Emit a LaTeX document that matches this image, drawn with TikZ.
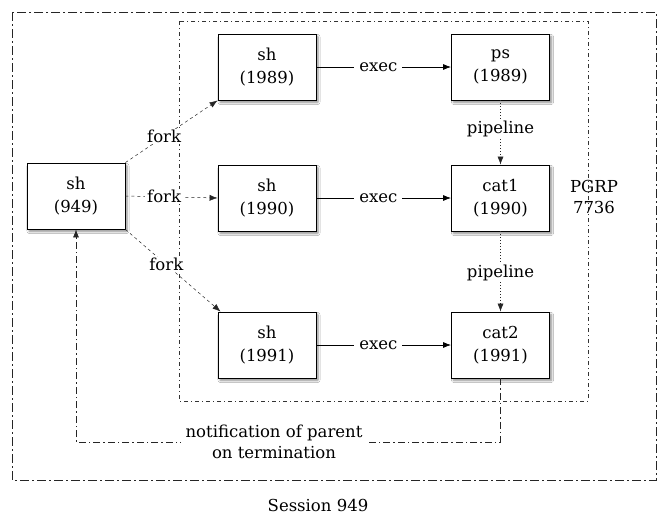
\documentclass[tikz,border=0pt]{standalone}
\usepackage{fontspec}
\setmainfont{DejaVu Serif}
\usetikzlibrary{arrows.meta,shadows.blur}
\begin{document}
\begin{tikzpicture}[x=1pt,y=-1pt,
  every node/.style={font=\fontsize{16.5}{23}\selectfont, text=black},
  proc/.style={draw=black, line width=0.9pt, fill=white, minimum width=98pt, minimum height=66pt, align=center, inner sep=0pt,
     blur shadow={shadow xshift=2pt, shadow yshift=-2.5pt, shadow blur steps=6, shadow blur extra rounding=0.5pt, shadow opacity=45}},
  tip/.style={-{Latex[length=8pt,width=6pt]}},
  forkline/.style={tip, line width=0.5pt, draw=black!85, dash pattern=on 3pt off 3pt},
  execline/.style={tip, line width=0.7pt, draw=black},
  pipeline/.style={tip, line width=0.5pt, draw=black!85, dash pattern=on 1pt off 2pt},
  session/.style={line width=0.8pt, draw=black!85, dash pattern=on 9pt off 3pt on 2pt off 3pt},
  pgrp/.style={line width=0.5pt, draw=black!80, dash pattern=on 4pt off 3pt on 1pt off 3pt},
  notifline/.style={tip, line width=0.6pt, draw=black!85, dash pattern=on 7pt off 3pt on 1.5pt off 3pt},
  lbl/.style={fill=white, inner xsep=2pt, inner ysep=1pt}
]
\useasboundingbox (0,0) rectangle (667,528);
\fill[white] (0,0) rectangle (667,528);

% session and process group borders
\draw[session] (12,12) rectangle (656,480);
\draw[pgrp] (179,21) rectangle (588,401);

% processes
\node[proc] (p949) at (76,196) {sh\\(949)};
\node[proc] (sh1989) at (267,67) {sh\\(1989)};
\node[proc] (ps1989) at (500.5,67) {ps\\(1989)};
\node[proc] (sh1990) at (267,198) {sh\\(1990)};
\node[proc] (cat1) at (500.5,198) {cat1\\(1990)};
\node[proc] (sh1991) at (267,345) {sh\\(1991)};
\node[proc] (cat2) at (500.5,345) {cat2\\(1991)};

% forks
\draw[forkline] (p949.north east) -- node[lbl, pos=0.42] (fork1) {fork} (sh1989.south west);
\draw[forkline] (p949.east) -- node[lbl, pos=0.42] (fork2) {fork} (sh1990.west);
\draw[forkline] (p949.south east) -- node[lbl, pos=0.43] (fork3) {fork} ([xshift=3pt]sh1991.north west);

% execs
\draw[execline] (sh1989.east) -- node[lbl, pos=0.46, inner xsep=5pt] (exec1) {exec} (ps1989.west);
\draw[execline] (sh1990.east) -- node[lbl, pos=0.46, inner xsep=5pt] (exec2) {exec} (cat1.west);
\draw[execline] (sh1991.east) -- node[lbl, pos=0.46, inner xsep=5pt] (exec3) {exec} (cat2.west);

% pipelines
\draw[pipeline] (ps1989.south) -- node[lbl, pos=0.44] (pipe1) {pipeline} (cat1.north);
\draw[pipeline] (cat1.south) -- node[lbl, pos=0.52] (pipe2) {pipeline} (cat2.north);

% notification
\coordinate (nrow) at (0,442);
\draw[notifline] (cat2.south) -- (cat2.south |- nrow) -- (p949.south |- nrow) -- (p949.south);
\node[lbl, align=center, inner xsep=5pt, inner ysep=0pt, font=\fontsize{16.5}{21}\selectfont] (notif) at (274,442) {notification of parent\\on termination};

% labels
\node[align=center, font=\fontsize{16.5}{21}\selectfont] (pgrplbl) at (594,197) {PGRP\\7736};
\node (sesslbl) at (318,505) {Session 949};
\end{tikzpicture}
\end{document}
